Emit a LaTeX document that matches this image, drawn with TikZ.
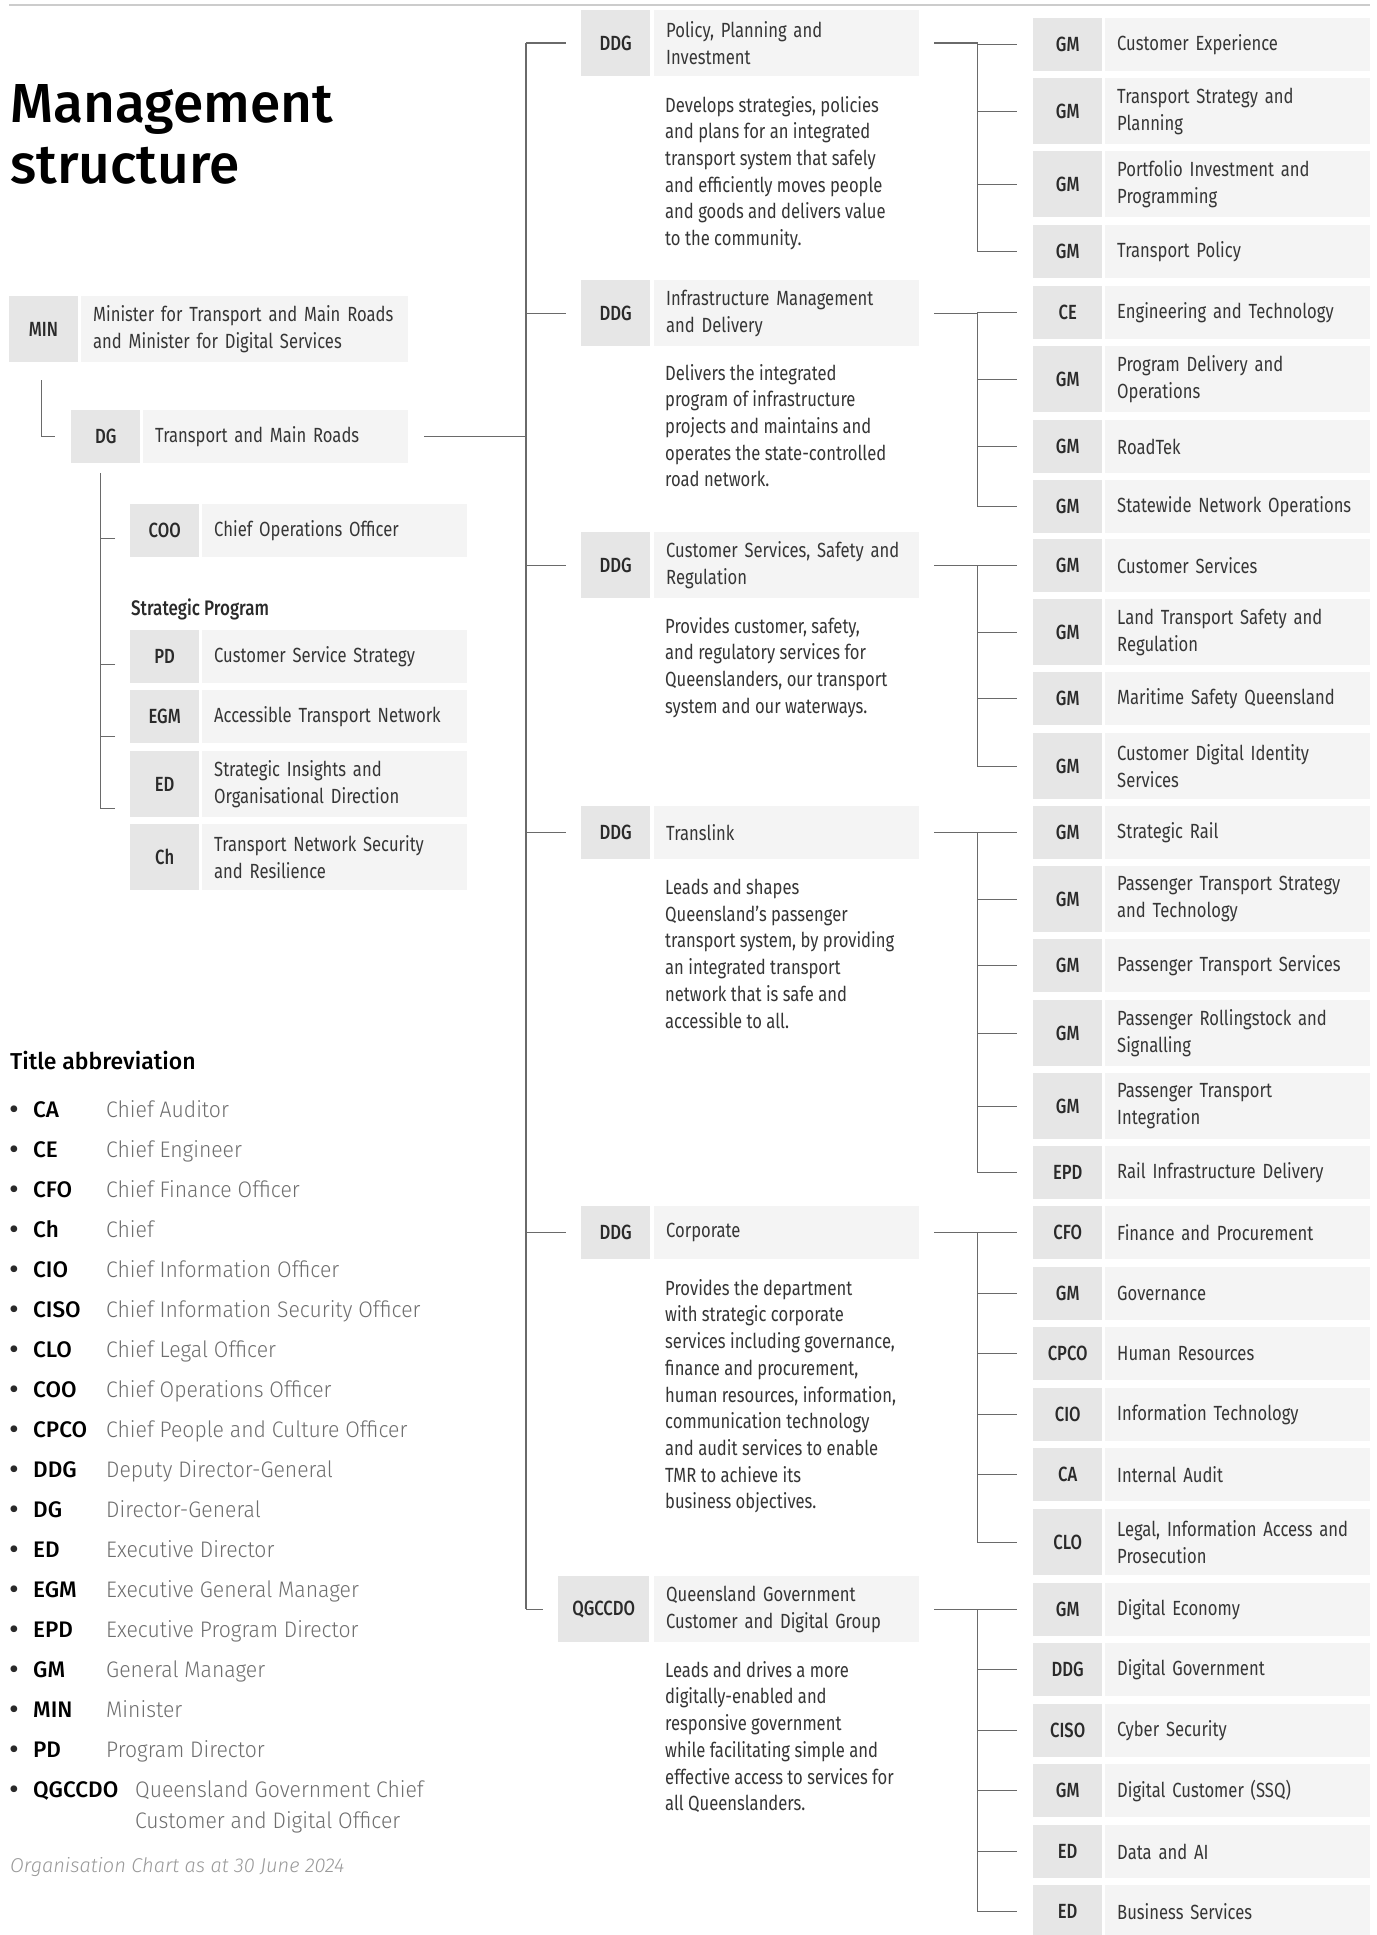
\documentclass[tikz,border=0pt]{standalone}
\usepackage{fontspec}
\setmainfont{Fira Sans}
\IfFontExistsTF{Fira Sans Light}
 {\newfontfamily\lightfont{Fira Sans Light}[FakeStretch=0.94]\newfontfamily\notefont{Fira Sans Light}}
 {\newfontfamily\lightfont{Fira Sans}[FakeStretch=0.94]\newfontfamily\notefont{Fira Sans}}
\IfFontExistsTF{Fira Sans Medium}
 {\newfontfamily\medfont{Fira Sans Medium}\newfontfamily\condmed{Fira Sans Medium}[FakeStretch=0.81]}
 {\newfontfamily\medfont{Fira Sans}[FakeBold=1.2]\newfontfamily\condmed{Fira Sans}[FakeStretch=0.81,FakeBold=1.2]}
\newfontfamily\condfont{Fira Sans}[FakeStretch=0.81]
\definecolor{abbrbg}{HTML}{E6E6E6}
\definecolor{boxbg}{HTML}{F4F4F4}
\definecolor{txt}{HTML}{363636}
\definecolor{abtxt}{HTML}{2A2A2A}
\definecolor{linegray}{HTML}{6A6A6A}
\definecolor{topgray}{HTML}{CCCCCC}
\definecolor{lgdesc}{HTML}{6E6E6E}
\definecolor{notegray}{HTML}{9A9A9A}
% name, abbr x, abbr width, text x, text width, top, height, abbr, text
\newcommand\orgbox[9]{%
  \node[abbr, minimum width=#3pt, minimum height=#7pt] (#1-a) at (#2,#6) {#8};
  \node[tbox, text width=#5pt, minimum height=#7pt] (#1) at (#4,#6) {#9};}
\newcommand\rrow[5]{\orgbox{#1}{1033}{69}{1105}{241}{#2}{#3}{#4}{#5}}
\newcommand\mrow[5]{\orgbox{#1}{581}{69}{654}{241}{#2}{#3}{#4}{#5}}
\newcommand\srow[5]{\orgbox{#1}{130}{69}{202}{241}{#2}{#3}{#4}{#5}}
\newcommand\bracketto[3]{%
  \coordinate (br-#1) at ([xshift=58pt]#1.east);
  \draw[conn] ([xshift=15pt]#1.east) -- (br-#1) -- (br-#1 |- #3-a.west);
  \foreach \c in {#2} {\draw[conn] (br-#1 |- \c-a.west) -- ([xshift=-16pt]\c-a.west);}}
\begin{document}
\begin{tikzpicture}[x=1pt,y=-1pt,
  abbr/.style={fill=abbrbg, inner sep=0pt, anchor=north west, text=abtxt, font=\condmed\fontsize{20.5}{26.7}\selectfont},
  tbox/.style={fill=boxbg, inner xsep=12pt, inner ysep=0pt, anchor=north west, align=left, text=txt, font=\condfont\fontsize{20.5}{26.7}\selectfont},
  desc/.style={anchor=north west, inner sep=0pt, align=left, text=txt, font=\condfont\fontsize{20.5}{26.7}\selectfont},
  conn/.style={draw=linegray, line width=1.4pt},
  titlefont/.style={anchor=base west, inner sep=0pt, text=black, font=\medfont\fontsize{55}{61}\selectfont},
  lgbul/.style={anchor=base, inner sep=0pt, text=abtxt, font=\fontsize{30}{31}\selectfont},
  lgab/.style={anchor=base west, inner sep=0pt, text=black, font=\medfont\fontsize{22.5}{31}\selectfont},
  lgde/.style={anchor=base west, inner sep=0pt, text=lgdesc, font=\lightfont\fontsize{22.5}{31}\selectfont},
]
\useasboundingbox (0,0) rectangle (1376,1935);
\fill[white] (0,0) rectangle (1376,1935);
\draw[topgray, line width=2.5pt] (9,5) -- (1370,5);

% title
\node[titlefont] (title1) at (10,122) {Management};
\node[titlefont] (title2) at (10,183) {structure};

% left column
\orgbox{min}{9}{68.5}{81}{303}{296}{66}{MIN}{\mbox{Minister for Transport and Main Roads}\\\mbox{and Minister for Digital Services}}
\orgbox{dg}{71}{69}{143}{241}{410}{53}{DG}{\mbox{Transport and Main Roads}}
\srow{coo}{504}{53}{COO}{\mbox{Chief Operations Officer}}
\node[anchor=base west, inner sep=0pt, text=abtxt, font=\condmed\fontsize{21}{26}\selectfont] (sp) at (131,615) {Strategic Program};
\srow{pd}{630}{53}{PD}{\mbox{Customer Service Strategy}}
\srow{egm}{690}{53}{EGM}{\mbox{Accessible Transport Network}}
\srow{ed}{751}{66}{ED}{\mbox{Strategic Insights and}\\\mbox{Organisational Direction}}
\srow{ch}{824}{66}{Ch}{\mbox{Transport Network Security}\\\mbox{and Resilience}}

\draw[conn] ([xshift=-2pt,yshift=-18pt]min-a.south) |- ([xshift=-16pt]dg-a.west);
\draw[conn] ([xshift=-5.5pt,yshift=-10pt]dg-a.south) |- ([xshift=-15pt,yshift=-24pt]ed-a.west);
\draw[conn] ([xshift=-15pt,yshift=-7.5pt]coo-a.west) -- ++(-15pt,0pt);
\draw[conn] ([xshift=-15pt,yshift=-7.5pt]pd-a.west) -- ++(-15pt,0pt);
\draw[conn] ([xshift=-15pt,yshift=-19.5pt]egm-a.west) -- ++(-15pt,0pt);

% middle column
\mrow{m1}{10}{66}{DDG}{\mbox{Policy, Planning and}\\\mbox{Investment}}
\node[desc] (m1d) at (665,96) {Develops strategies, policies\\and plans for an integrated\\transport system that safely\\and efficiently moves people\\and goods and delivers value\\to the community.};
\mrow{m2}{280}{66}{DDG}{\mbox{Infrastructure Management}\\\mbox{and Delivery}}
\node[desc] (m2d) at (665,364) {Delivers the integrated\\program of infrastructure\\projects and maintains and\\operates the state-controlled\\road network.};
\mrow{m3}{532}{66}{DDG}{\mbox{Customer Services, Safety and}\\\mbox{Regulation}}
\node[desc] (m3d) at (665,617) {Provides customer, safety,\\and regulatory services for\\Queenslanders, our transport\\system and our waterways.};
\mrow{m4}{806}{53}{DDG}{\mbox{Translink}}
\node[desc] (m4d) at (665,879) {Leads and shapes\\Queensland’s passenger\\transport system, by providing\\an integrated transport\\network that is safe and\\accessible to all.};
\mrow{m5}{1206}{53}{DDG}{\mbox{Corporate}}
\node[desc] (m5d) at (665,1279) {Provides the department\\with strategic corporate\\services including governance,\\finance and procurement,\\human resources, information,\\communication technology\\and audit services to enable\\TMR to achieve its\\business objectives.};
\orgbox{qg}{558}{91}{654}{241}{1576}{66}{QGCCDO}{\mbox{Queensland Government}\\\mbox{Customer and Digital Group}}
\node[desc] (qgd) at (665,1661) {Leads and drives a more\\digitally-enabled and\\responsive government\\while facilitating simple and\\effective access to services for\\all Queenslanders.};

% trunk
\coordinate (trunk) at (526,0);
\draw[conn] (trunk |- m1-a.west) -- (trunk |- qg-a.west);
\foreach \n in {m1,m2,m3,m4,m5,qg} {\draw[conn] (trunk |- \n-a.west) -- ([xshift=-15pt]\n-a.west);}
\draw[conn] ([xshift=16pt]dg.east) -- (trunk |- dg.east);

% right column
\rrow{r1}{18}{53}{GM}{\mbox{Customer Experience}}
\rrow{r2}{78}{66}{GM}{\mbox{Transport Strategy and}\\\mbox{Planning}}
\rrow{r3}{151}{66}{GM}{\mbox{Portfolio Investment and}\\\mbox{Programming}}
\rrow{r4}{225}{53}{GM}{\mbox{Transport Policy}}
\rrow{r5}{286}{53}{CE}{\mbox{Engineering and Technology}}
\rrow{r6}{346}{66}{GM}{\mbox{Program Delivery and}\\\mbox{Operations}}
\rrow{r7}{420}{53}{GM}{\mbox{RoadTek}}
\rrow{r8}{480}{53}{GM}{\mbox{Statewide Network Operations}}
\rrow{r9}{539}{53}{GM}{\mbox{Customer Services}}
\rrow{r10}{599}{66}{GM}{\mbox{Land Transport Safety and}\\\mbox{Regulation}}
\rrow{r11}{672}{53}{GM}{\mbox{Maritime Safety Queensland}}
\rrow{r12}{733}{66}{GM}{\mbox{Customer Digital Identity}\\\mbox{Services}}
\rrow{r13}{806}{53}{GM}{\mbox{Strategic Rail}}
\rrow{r14}{866}{66}{GM}{\mbox{Passenger Transport Strategy}\\\mbox{and Technology}}
\rrow{r15}{939}{53}{GM}{\mbox{Passenger Transport Services}}
\rrow{r16}{1000}{66}{GM}{\mbox{Passenger Rollingstock and}\\\mbox{Signalling}}
\rrow{r17}{1073}{66}{GM}{\mbox{Passenger Transport}\\\mbox{Integration}}
\rrow{r18}{1146}{53}{EPD}{\mbox{Rail Infrastructure Delivery}}
\rrow{r19}{1206}{53}{CFO}{\mbox{Finance and Procurement}}
\rrow{r20}{1267}{53}{GM}{\mbox{Governance}}
\rrow{r21}{1327}{53}{CPCO}{\mbox{Human Resources}}
\rrow{r22}{1388}{53}{CIO}{\mbox{Information Technology}}
\rrow{r23}{1448}{53}{CA}{\mbox{Internal Audit}}
\rrow{r24}{1509}{66}{CLO}{\mbox{Legal, Information Access and}\\\mbox{Prosecution}}
\rrow{r25}{1583}{53}{GM}{\mbox{Digital Economy}}
\rrow{r26}{1643}{53}{DDG}{\mbox{Digital Government}}
\rrow{r27}{1704}{53}{CISO}{\mbox{Cyber Security}}
\rrow{r28}{1764}{53}{GM}{\mbox{Digital Customer (SSQ)}}
\rrow{r29}{1825}{53}{ED}{\mbox{Data and AI}}
\rrow{r30}{1885}{53}{ED}{\mbox{Business Services}}

\bracketto{m1}{r1,r2,r3,r4}{r4}
\bracketto{m2}{r5,r6,r7,r8}{r8}
\bracketto{m3}{r9,r10,r11,r12}{r12}
\bracketto{m4}{r13,r14,r15,r16,r17,r18}{r18}
\bracketto{m5}{r19,r20,r21,r22,r23,r24}{r24}
\bracketto{qg}{r25,r26,r27,r28,r29,r30}{r30}

% legend
\node[anchor=base west, inner sep=0pt, text=black, font=\medfont\fontsize{23}{28}\selectfont] (lgtitle) at (10,1069) {Title abbreviation};
\foreach \ab/\de [count=\i from 0] in {CA/Chief Auditor, CE/Chief Engineer, CFO/Chief Finance Officer, Ch/Chief, CIO/Chief Information Officer, CISO/Chief Information Security Officer, CLO/Chief Legal Officer, COO/Chief Operations Officer, CPCO/Chief People and Culture Officer, DDG/Deputy Director-General, DG/Director-General, ED/Executive Director, EGM/Executive General Manager, EPD/Executive Program Director, GM/General Manager, MIN/Minister, PD/Program Director} {
  \node[lgbul] (lgb\i) at (14,{1119+40*\i}) {•};
  \node[lgab] (lga\i) at (33,{1117+40*\i}) {\ab};
  \node[lgde] (lgd\i) at (106,{1117+40*\i}) {\de};
}
\node[lgbul] (lgbq) at (14,1799) {•};
\node[lgab] (lgaq) at (33,1797) {QGCCDO};
\node[lgde] (lgdq1) at (135,1797) {Queensland Government Chief};
\node[lgde] (lgdq2) at (135,1828) {Customer and Digital Officer};
\node[anchor=base west, inner sep=0pt, text=notegray, font=\notefont\itshape\fontsize{20}{24}\selectfont] (note) at (10,1872) {Organisation Chart as at 30 June 2024};
\end{tikzpicture}
\end{document}
